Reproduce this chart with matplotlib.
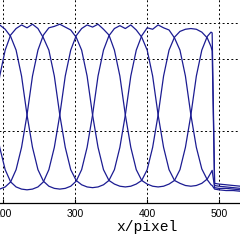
import matplotlib
matplotlib.use("Agg")
import matplotlib.pyplot as plt

# pixel positions (x axis)
x_pixel = [172.2, 179.8, 187.4, 195.0, 202.6, 210.2, 217.8, 225.4, 233.0, 240.6,
           248.2, 255.8, 263.4, 271.0, 278.6, 286.2, 293.8, 301.4, 309.0, 316.6,
           324.2, 331.8, 339.4, 347.0, 354.6, 362.2, 369.8, 377.4, 385.0, 392.6,
           400.2, 407.8, 415.4, 423.0, 430.6, 438.2, 445.8, 453.4, 461.0, 468.6,
           476.2, 483.8, 489.0, 490.6, 494.0, 500.0, 510.0, 520.0, 530.0, 540.0]

# four phase-shifted intensity profiles
curve_a = [47, 78, 123, 177, 213, 234, 243, 248, 244, 249,
           243, 230, 213, 177, 123, 78, 47, 32, 26, 23,
           22, 23, 26, 32, 47, 78, 123, 177, 213, 233,
           244, 242, 248, 244, 241, 230, 213, 177, 123, 78,
           48, 33, 26, 25, 20, 19, 18, 18, 17, 17]
curve_b = [23, 20, 19, 20, 23, 30, 47, 78, 123, 177,
           213, 234, 244, 246, 249, 245, 241, 231, 213, 177,
           123, 78, 47, 32, 27, 24, 23, 24, 27, 32,
           47, 78, 123, 177, 213, 231, 239, 242, 243, 242,
           238, 230, 218, 212, 25, 24, 23, 22, 21, 21]
curve_c = [213, 177, 123, 78, 47, 30, 23, 20, 19, 20,
           23, 30, 47, 78, 123, 177, 213, 233, 243, 248,
           245, 249, 242, 234, 213, 177, 123, 78, 47, 32,
           27, 24, 23, 24, 27, 32, 47, 78, 123, 177,
           213, 232, 238, 237, 28, 27, 26, 25, 24, 23]
curve_d = [241, 247, 244, 248, 242, 232, 213, 177, 123, 78,
           47, 31, 24, 21, 20, 21, 24, 31, 47, 78,
           123, 177, 213, 233, 243, 247, 243, 248, 241, 231,
           213, 177, 123, 78, 47, 32, 28, 25, 24, 25,
           28, 34, 43, 46, 22, 21, 21, 20, 19, 19]

x_ticks = [200, 300, 400, 500]
y_ticks = [0, 100, 200, 250]
x_label = "x/pixel"

fig = plt.figure(figsize=(2.4, 2.4), dpi=100)
ax = fig.add_axes([-0.2857, 0.1521, 1.4973, 0.9])
ax.set_xlim(100, 600)
ax.set_ylim(0, 300)

line_color = "#1c1c92"
for ys in (curve_a, curve_b, curve_c, curve_d):
    ax.plot(x_pixel, ys, color=line_color, linewidth=0.9)

ax.set_xticks(x_ticks)
ax.set_yticks(y_ticks)
ax.set_yticklabels([])
ax.grid(True, color="black", linestyle=(0, (2, 2.5)), linewidth=0.7)
for s in ax.spines.values():
    s.set_color("black")
    s.set_linewidth(0.9)
ax.tick_params(direction="in", length=3, pad=4, labelsize=7.5, colors="black")
for lab in ax.get_xticklabels():
    lab.set_family("Liberation Sans")

ax.set_xlabel(x_label, family="Liberation Mono", fontsize=10.5, color="black")
ax.xaxis.set_label_coords(0.5985, -0.076)
ax.xaxis.label.set_va("top")

fig.savefig("out.png", dpi=100)
